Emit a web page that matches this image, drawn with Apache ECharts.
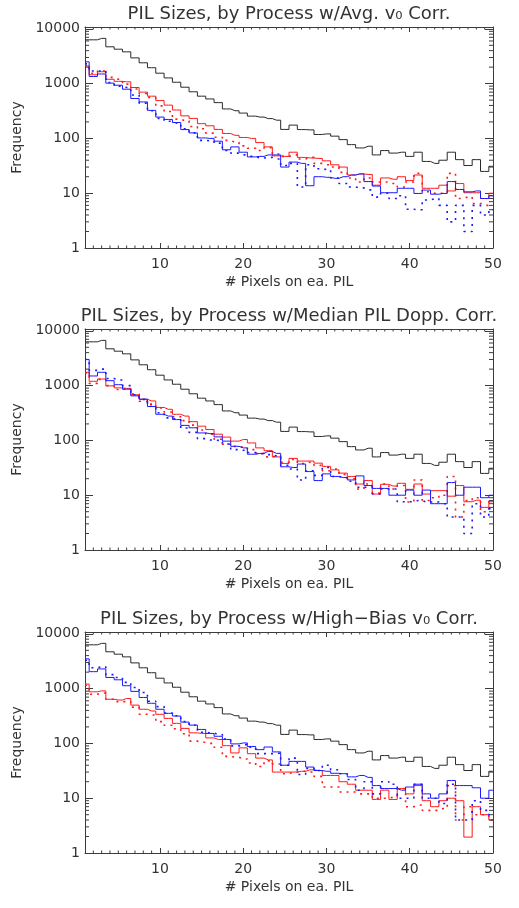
<!DOCTYPE html>
<html>
<head>
<meta charset="utf-8">
<title>PIL Sizes by Process</title>
<script src="https://cdn.jsdelivr.net/npm/echarts@6/dist/echarts.min.js"></script>
<style>
  html, body { margin: 0; padding: 0; background: #fff; }
  #chart { width: 519px; height: 908px; }
</style>
</head>
<body>
<div id="chart"></div>
<script>
  // # pixels on each PIL (bin centres)
  const bins = [1, 2, 3, 4, 5, 6, 7, 8, 9, 10, 11, 12, 13, 14, 15, 16, 17, 18, 19, 20,
    21, 22, 23, 24, 25, 26, 27, 28, 29, 30, 31, 32, 33, 34, 35, 36, 37, 38, 39, 40,
    41, 42, 43, 44, 45, 46, 47, 48, 49, 50];
  const xTicks = [10, 20, 30, 40, 50];
  const yTicks = [1, 10, 100, 1000, 10000];

  const titles = [
    'PIL Sizes, by Process w/Avg. v\u2080 Corr.',
    'PIL Sizes, by Process w/Median PIL Dopp. Corr.',
    'PIL Sizes, by Process w/High\u2212Bias v\u2080 Corr.'
  ];

  // total (same in every panel)
  const allPils = [6300, 6300, 6700, 4700, 4250, 3800, 2950, 2400, 1950, 1550,
    1270, 1060, 860, 710, 590, 525, 450, 345, 320, 290,
    255, 245, 230, 215, 146, 175, 145, 143, 118, 121,
    110, 95, 77, 67, 72, 50, 60, 54, 56, 47,
    56, 38, 35, 40, 56, 41, 32, 41, 25, 31];

  // panel 1: avg v0 correction
  const red1 = [2100, 1450, 1650, 1200, 1100, 1080, 850, 700, 590, 490,
    405, 330, 258, 232, 186, 170, 146, 123, 114, 104,
    100, 84, 70, 48, 47, 56, 45, 44, 43, 39,
    33, 30, 21.5, 22.5, 22, 14, 19, 18, 20, 17,
    21.5, 12.3, 12.3, 14, 11, 15, 10.2, 10.2, 8, 10];
  const redDot1 = [2150, 1550, 1700, 1300, 1200, 980, 800, 660, 560, 392,
    310, 225, 210, 165, 150, 125, 105, 92, 85, 73,
    66, 60, 68, 52, 47, 50, 42, 45, 35, 33,
    30, 24, 19, 16, 19, 16, 16, 15, 13, 16,
    23, 10.6, 10, 10, 23, 8, 8.6, 6.5, 6, 6];
  const blue1 = [2500, 1350, 1500, 1020, 935, 790, 535, 463, 325, 245,
    222, 195, 145, 126, 102, 100, 89, 62, 70, 56,
    46, 47, 50, 50, 30, 37, 35, 13.7, 20, 19.5,
    18.7, 20, 21.5, 22.5, 16.3, 13.5, 10.2, 10.2, 12.3, 12.3,
    9.9, 11.4, 9.6, 9.9, 16.3, 11.7, 10.6, 11, 8, 9];
  const blueDot1 = [2300, 1700, 1700, 1050, 900, 850, 620, 440, 320, 232,
    206, 190, 150, 126, 92, 90, 82, 60, 54, 50,
    47, 44, 45, 42, 32, 35, 13, 33, 28, 27,
    19, 15, 13, 12.5, 11.5, 8.5, 10, 8, 9, 5.1,
    5, 7.5, 8, 6, 3, 6, 2, 6, 4, 5];

  // panel 2: median PIL doppler correction
  const red2 = [1750, 1200, 1320, 990, 910, 890, 680, 565, 525, 400,
    370, 300, 278, 220, 182, 158, 130, 115, 97, 104,
    90, 73, 65, 50, 38, 47, 42, 42, 38.5, 33.6,
    29, 25.3, 22, 16, 18.5, 10.5, 15.8, 14.7, 16.5, 12.8,
    16, 10.5, 12.1, 12.1, 9.6, 15, 7.6, 8.1, 6, 7.6];
  const redDot2 = [1700, 1100, 1300, 1000, 850, 880, 700, 520, 460, 390,
    330, 270, 230, 190, 155, 130, 105, 85, 78, 75,
    68, 58, 50, 52, 40, 45, 38, 40, 35, 28,
    30, 24, 20, 13, 16, 11, 16, 13, 15, 7.5,
    19, 8, 9, 10, 22, 4, 8, 9, 5, 8];
  const blue2 = [3000, 1500, 1750, 1230, 1040, 860, 650, 565, 415, 300,
    278, 240, 188, 170, 137, 133, 116, 97, 78, 73,
    56, 58, 63, 58, 33, 32, 37, 27, 18.5, 24.5,
    22, 21, 19, 22.5, 15, 13.3, 13.3, 10, 10, 12.4,
    10, 12.4, 7, 7, 17, 10, 14, 14, 9, 10];
  const blueDot2 = [3000, 1900, 2000, 1350, 1270, 1000, 680, 560, 420, 320,
    258, 240, 168, 140, 108, 102, 100, 86, 68, 66,
    60, 57, 55, 52, 35, 30, 19, 28, 23, 32,
    22, 21, 18, 14, 14, 10.5, 13, 13, 7.6, 7.6,
    8, 7.5, 7.5, 7, 4, 4, 2, 7, 4, 5.7];

  // panel 3: high-bias v0 correction
  const red3 = [1210, 875, 910, 640, 620, 660, 500, 420, 390, 340,
    286, 232, 188, 156, 152, 126, 118, 91, 67, 83,
    65, 54, 50, 30, 30, 30, 31, 33, 32, 26,
    26, 20, 18, 14, 14, 9.5, 14, 9.5, 15, 12,
    17, 9, 7, 9, 10, 9, 1.95, 7, 5, 4];
  const redDot3 = [1150, 790, 830, 640, 580, 580, 460, 340, 330, 250,
    215, 185, 150, 110, 105, 100, 85, 58, 56, 52,
    44, 38, 48, 42, 28, 30, 31, 30, 25, 16,
    16, 13, 13, 12, 12, 10, 10, 10.5, 15, 7,
    7.5, 6, 6, 6.5, 17, 4, 7, 5, 5, 4];
  const blue3 = [3500, 2040, 2290, 1600, 1450, 1130, 890, 690, 540, 420,
    354, 316, 245, 216, 180, 152, 135, 118, 98, 102,
    88, 77, 86, 70, 40, 47, 47, 37, 32, 31,
    28.5, 28, 24.5, 26, 24, 17, 15, 15, 14, 16,
    18, 12, 10, 12, 21, 17, 17, 15.5, 10, 14];
  const blueDot3 = [3300, 2400, 2500, 1800, 1600, 1300, 1050, 850, 590, 470,
    360, 320, 250, 215, 160, 155, 145, 120, 90, 95,
    85, 65, 65, 66, 40, 54, 27, 35, 32, 40,
    33, 28, 22, 14, 20, 12, 20, 18, 10, 10,
    18, 10, 10, 8, 18, 4, 4, 9, 6, 5];

  const panels = [
    { red: red1, redDot: redDot1, blue: blue1, blueDot: blueDot1 },
    { red: red2, redDot: redDot2, blue: blue2, blueDot: blueDot2 },
    { red: red3, redDot: redDot3, blue: blue3, blueDot: blueDot3 }
  ];

  const FONT = '"DejaVu Sans", sans-serif';
  const TXT = '#333';
  const AXIS = '#3c3c3c';
  const Y_MAX = 10800;
  const GRID_LEFT = 85;
  const GRID_W = 408;
  const GRID_H = 221;
  const gridTops = [27, 329, 632];

  const pairs = (arr) => bins.map((x, i) => [x, arr[i]]);

  // minor tick spots: kind 0 = log y minors, kind 1 = x minors
  const minorTicks = [];
  [1, 10, 100, 1000].forEach((d) => {
    for (let m = 2; m <= 9; m++) minorTicks.push([1, m * d, 0]);
  });
  bins.forEach((x) => {
    if (x > 1 && x < 50 && x % 10 !== 0) minorTicks.push([x, 1, 1]);
  });

  function renderMinor(params, api) {
    const kind = api.value(2);
    const style = { stroke: AXIS, lineWidth: 1 };
    if (kind === 0) {
      const v = api.value(1);
      const l = api.coord([1, v]);
      const r = api.coord([50, v]);
      return {
        type: 'group',
        children: [
          { type: 'line', shape: { x1: l[0], y1: l[1], x2: l[0] + 4, y2: l[1] }, style },
          { type: 'line', shape: { x1: r[0] - 4, y1: r[1], x2: r[0], y2: r[1] }, style }
        ]
      };
    }
    const x = api.value(0);
    const b = api.coord([x, 1]);
    const t = api.coord([x, Y_MAX]);
    return {
      type: 'group',
      children: [
        { type: 'line', shape: { x1: b[0], y1: b[1], x2: b[0], y2: b[1] - 2.5 }, style },
        { type: 'line', shape: { x1: t[0], y1: t[1], x2: t[0], y2: t[1] + 2.5 }, style }
      ]
    };
  }

  const yLabel = (v) => {
    const r = Math.round(v);
    return yTicks.includes(r) && Math.abs(v - r) < 0.01 ? String(r) : '';
  };

  const grid = [];
  const xAxis = [];
  const yAxis = [];
  const series = [];

  panels.forEach((p, i) => {
    grid.push({ left: GRID_LEFT, top: gridTops[i], width: GRID_W, height: GRID_H });

    const lineStyle = { color: AXIS, width: 1 };
    xAxis.push({
      gridIndex: i, type: 'value', min: 1, max: 50, position: 'bottom',
      axisLine: { show: true, lineStyle },
      axisTick: { show: true, inside: true, length: 5, customValues: xTicks, lineStyle },
      axisLabel: { customValues: xTicks, margin: 9, color: TXT, fontFamily: FONT, fontSize: 14 },
      splitLine: { show: false },
      name: '# Pixels on ea. PIL', nameLocation: 'middle', nameGap: 27,
      nameTextStyle: { color: TXT, fontFamily: FONT, fontSize: 14 }
    });
    xAxis.push({
      gridIndex: i, type: 'value', min: 1, max: 50, position: 'top',
      axisLine: { show: true, lineStyle },
      axisTick: { show: true, inside: true, length: 5, customValues: xTicks, lineStyle },
      axisLabel: { show: false },
      splitLine: { show: false }
    });
    yAxis.push({
      gridIndex: i, type: 'log', logBase: 10, min: 1, max: Y_MAX, position: 'left',
      axisLine: { show: true, lineStyle },
      axisTick: { show: true, inside: true, length: 8, lineStyle },
      axisLabel: { formatter: yLabel, margin: 5, color: TXT, fontFamily: FONT, fontSize: 14 },
      splitLine: { show: false },
      name: 'Frequency', nameLocation: 'middle', nameRotate: 90, nameGap: 58,
      nameTextStyle: { color: TXT, fontFamily: FONT, fontSize: 14 }
    });
    yAxis.push({
      gridIndex: i, type: 'log', logBase: 10, min: 1, max: Y_MAX, position: 'right',
      axisLine: { show: true, lineStyle },
      axisTick: { show: true, inside: true, length: 8, lineStyle },
      axisLabel: { show: false },
      splitLine: { show: false }
    });

    const line = (data, color, dotted) => ({
      type: 'line',
      xAxisIndex: 2 * i,
      yAxisIndex: 2 * i,
      data: pairs(data),
      step: 'middle',
      showSymbol: false,
      symbol: 'none',
      silent: true,
      lineStyle: { color, width: dotted ? 1.6 : 1, type: dotted ? [2, 5] : 'solid' }
    });

    series.push(line(allPils, '#2a2a2a', false));
    series.push(line(p.red, '#ff1a1a', false));
    series.push(line(p.redDot, '#ff1a1a', true));
    series.push(line(p.blue, '#1a1aff', false));
    series.push(line(p.blueDot, '#1a1aff', true));
    series.push({
      type: 'custom',
      xAxisIndex: 2 * i,
      yAxisIndex: 2 * i,
      data: minorTicks,
      renderItem: renderMinor,
      silent: true,
      clip: false,
      z: 5
    });
  });

  const graphic = titles.map((t, i) => ({
    type: 'text',
    x: GRID_LEFT + GRID_W / 2,
    y: gridTops[i] - 13,
    silent: true,
    style: {
      text: t,
      fill: TXT,
      font: '18px "DejaVu Sans", sans-serif',
      textAlign: 'center',
      textVerticalAlign: 'middle'
    }
  }));

  const chart = echarts.init(document.getElementById('chart'));
  chart.setOption({
    animation: false,
    backgroundColor: '#fff',
    grid,
    xAxis,
    yAxis,
    series,
    graphic
  });

  window.addEventListener('resize', () => chart.resize());
</script>
</body>
</html>
